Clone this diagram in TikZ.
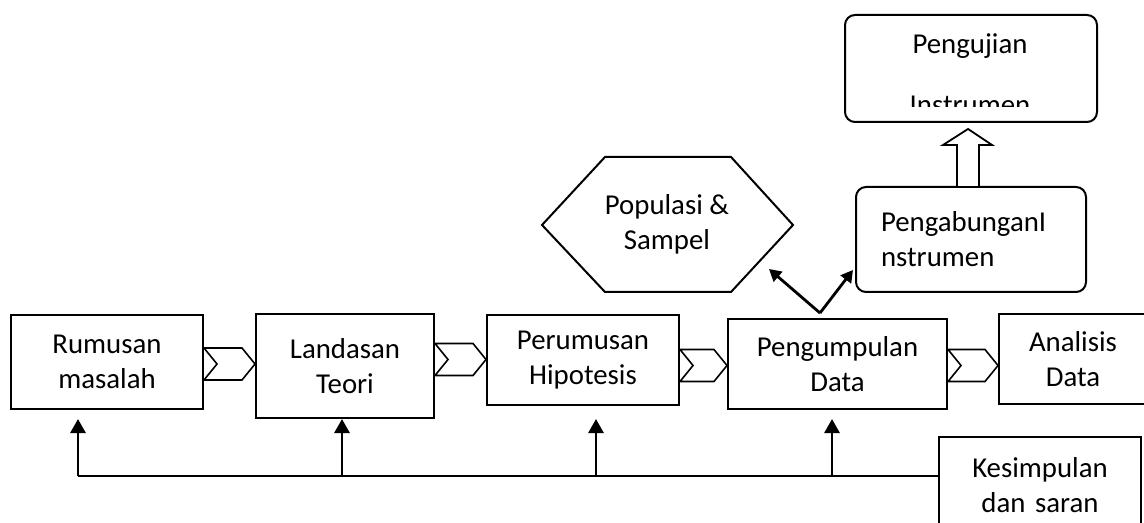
\documentclass[tikz,border=0pt]{standalone}
\usepackage{fontspec}
\setmainfont{Carlito}
\usetikzlibrary{arrows.meta}

\tikzset{
  txt/.style={font=\fontsize{14.4}{17.5}\selectfont},
  box/.style={txt, draw, line width=1pt, inner sep=0pt, align=center, anchor=north west},
  roundbox/.style={box, rounded corners=5pt},
  chev/.style={draw, line width=0.8pt, line join=miter},
  fb/.style={line width=1.4pt},
  uparrow/.style={fb, -{Triangle[length=7pt,width=7.5pt]}},
  diagarrow/.style={fb, -{Triangle[length=6pt,width=6.5pt]}},
  hollow/.style={draw, fill=white, line width=0.9pt, line join=miter},
}

% chevron between two boxes: from node, to node, middle y
\newcommand{\chevron}[3]{%
  \path (#1.east |- 0,#3) coordinate (cA) (#2.west |- 0,#3) coordinate (cB);
  \draw[chev] ([shift={(0,-16)}]cA) -- ([shift={(-13,-16)}]cB) -- (cB)
    -- ([shift={(-13,16)}]cB) -- ([shift={(0,16)}]cA) -- ([shift={(13,0)}]cA) -- cycle;
}

\begin{document}
\begin{tikzpicture}[x=0.5pt, y=-0.5pt]
  \clip (0,0) rectangle (1144,523);

  % main row
  \node[box, text width=96pt, minimum height=47pt] (rum) at (10,314) {Rumusan\\masalah};
  \node[box, text width=89pt, minimum height=52pt] (lan) at (255,313) {Landasan\\Teori};
  \node[box, text width=96pt, minimum height=45pt] (per) at (486,314) {Perumusan\\Hipotesis};
  \node[box, text width=109.5pt, minimum height=45pt] (pen) at (727,318) {Pengumpulan\\Data};
  \node[box, text width=74pt, minimum height=45pt] (ana) at (998,313) {Analisis\\Data};
  \node[box, text width=101pt, minimum height=48pt] (kes) at (938,436) {Kesimpulan\\dan saran};

  \chevron{rum}{lan}{364}
  \chevron{lan}{per}{359.5}
  \chevron{per}{pen}{365.5}
  \chevron{pen}{ana}{365.5}

  % feedback line
  \coordinate (f1) at (78,476);
  \coordinate (f2) at (342,476);
  \coordinate (f3) at (596,476);
  \coordinate (f4) at (832,476);
  \draw[fb] (kes.west |- f1) -- (f1);
  \draw[uparrow] (f1) -- (f1 |- lan.south);
  \draw[uparrow] (f2) -- (f2 |- lan.south);
  \draw[uparrow] (f3) -- (f3 |- lan.south);
  \draw[uparrow] (f4) -- (f4 |- lan.south);

  % populasi hexagon
  \node[txt, align=center] (pop) at (667,224) {Populasi \&\\Sampel};
  \draw[line width=1pt, line join=miter] (542,225) -- (605,157) -- (731,157)
    -- (793,225) -- (731,292) -- (605,292) -- cycle;

  % instrumen boxes
  \node[roundbox, inner xsep=12.5pt, text width=90pt, align=left,
    minimum height=52.5pt] (gab) at (855,186) {PengabunganI\\nstrumen};
  \node[roundbox, minimum width=126pt, minimum height=53.5pt] (uji) at (844,14) {};
  \node[txt, anchor=base] (ujitop) at (970,54) {Pengujian};
  \begin{scope}
    \clip (846,16) rectangle (1094,107);
    \node[txt, anchor=base] (ujibot) at (970,115) {Instrumen};
  \end{scope}

  \draw[hollow] (957,186) -- (957,145) -- (943,145) -- (968,129)
    -- (992,145) -- (979,145) -- (979,186);

  % arrows out of Pengumpulan
  \coordinate (split) at (820,313);
  \coordinate (hexin) at (769,269);
  \coordinate (gabin) at (853,270);
  \draw[diagarrow] (split) -- (hexin);
  \draw[diagarrow] (split) -- (gabin);
\end{tikzpicture}
\end{document}
